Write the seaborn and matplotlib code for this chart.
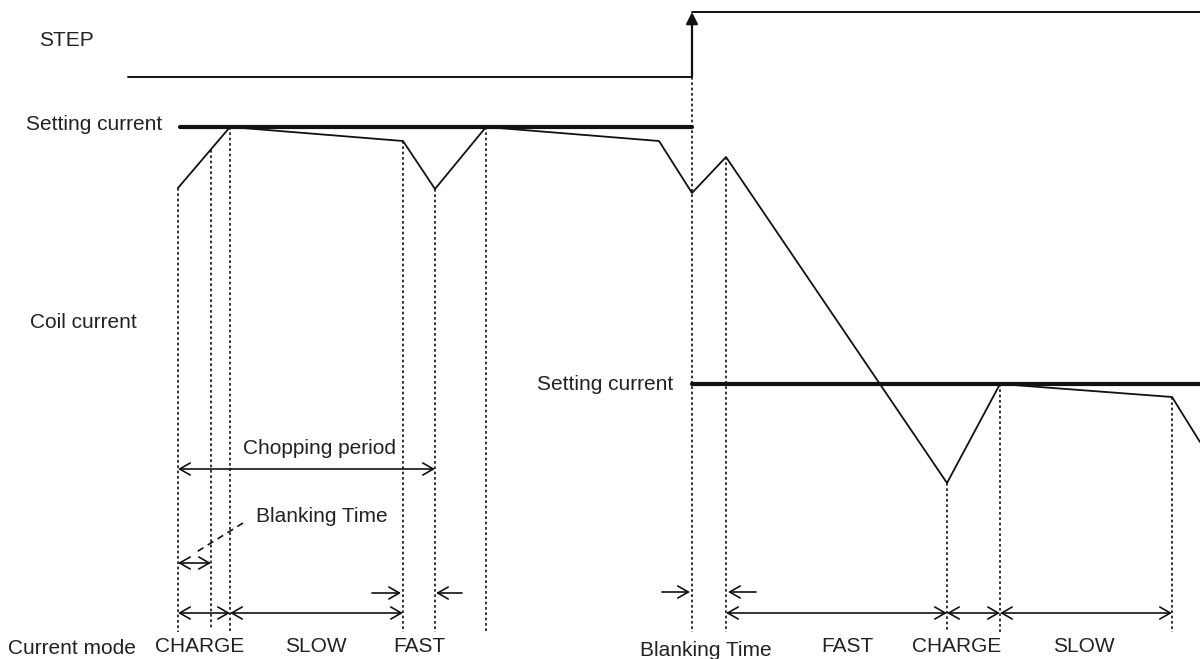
import matplotlib
matplotlib.use("Agg")
import matplotlib.pyplot as plt
import seaborn as sns
import pandas as pd

# ---------------- data (time axis in drawing units, current axis inverted) ----------------
# STEP signal
step_t = [128, 692, 692, 1200]
step_v = [77, 77, 12, 12]

# Coil current waveform
wave_t = [178, 230, 403, 435, 486, 659, 692, 726, 947, 1000, 1172, 1200]
wave_i = [188, 127, 141, 189, 127, 141, 193, 157, 483, 384, 397, 442]

# Setting current levels
set1_t = [180, 692]
set1_i = [127, 127]
set2_t = [692, 1200]
set2_i = [384, 384]

# Dashed time markers
mark_t = [178, 211, 230, 403, 435, 486, 692, 726, 947, 1000, 1172]
mark_top = [188, 150, 127, 141, 189, 127, 77, 157, 483, 384, 397]
mark_bot = [632, 628, 632, 632, 632, 632, 632, 632, 632, 632, 632]

# Double-headed interval arrows: (start, end, level)
span_start = [178, 178, 178, 230, 726, 947, 1000]
span_end = [435, 211, 230, 403, 947, 1000, 1172]
span_level = [469, 563, 613, 613, 613, 613, 613]

# Single pointing arrows (tail -> head)
ptr_tail = [372, 462, 662, 756]
ptr_head = [401, 436, 690, 728]
ptr_level = [593, 593, 592, 592]

# Blanking-time leader line
lead_t = [243, 195]
lead_i = [523, 553]

# Labels
lab_text = ["STEP", "Setting current", "Coil current", "Setting current",
            "Chopping period", "Blanking Time", "Current mode"]
lab_x = [39, 26, 30, 537, 243, 256, 8]
lab_y = [41, 125, 323, 384, 448, 517, 648]

mode_text = ["CHARGE", "SLOW", "FAST", "Blanking Time", "FAST", "CHARGE", "SLOW"]
mode_x = [200, 316, 419, 706, 847, 957, 1084]
mode_y = [647, 647, 647, 650, 647, 647, 647]

# ---------------- drawing ----------------
sns.set_theme(style="white")
plt.rcParams["font.family"] = ["Liberation Sans", "DejaVu Sans"]

fig = plt.figure(figsize=(12, 6.59), dpi=100)
ax = fig.add_axes([0, 0, 1, 1])
ax.set_xlim(0, 1200)
ax.set_ylim(659, 0)
ax.axis("off")

ink = "#111111"

# step low/high levels
sns.lineplot(x=step_t[:2], y=step_v[:2], ax=ax, color=ink, lw=1.4, sort=False)
sns.lineplot(x=step_t[2:], y=step_v[2:], ax=ax, color=ink, lw=1.4, sort=False)
ax.annotate("", xy=(step_t[2], step_v[2]), xytext=(step_t[1], step_v[1]),
            arrowprops=dict(arrowstyle="-|>,head_length=0.5,head_width=0.25",
                            color=ink, lw=1.6, mutation_scale=14,
                            shrinkA=0, shrinkB=0))

# setting current lines
sns.lineplot(x=set1_t, y=set1_i, ax=ax, color=ink, lw=3.0, sort=False)
sns.lineplot(x=set2_t, y=set2_i, ax=ax, color=ink, lw=3.0, sort=False)

# coil current waveform
wave_df = pd.DataFrame({"t": wave_t, "i": wave_i})
sns.lineplot(data=wave_df, x="t", y="i", ax=ax, color=ink, lw=1.3, sort=False)

# dashed vertical markers
for t, a, b in zip(mark_t, mark_top, mark_bot):
    ax.vlines(t, a, b, colors=ink, lw=1.2, linestyles=(0, (1.6, 1.6)))

# leader line for blanking time
ax.plot(lead_t, lead_i, color=ink, lw=1.2, linestyle=(0, (4, 3)))

# interval arrows
astyle = "head_length=0.42,head_width=0.24"
for s, e, lv in zip(span_start, span_end, span_level):
    ax.annotate("", xy=(e, lv), xytext=(s, lv),
                arrowprops=dict(arrowstyle="<->," + astyle,
                                color=ink, lw=1.2, mutation_scale=18,
                                shrinkA=0, shrinkB=0))

for tl, hd, lv in zip(ptr_tail, ptr_head, ptr_level):
    ax.annotate("", xy=(hd, lv), xytext=(tl, lv),
                arrowprops=dict(arrowstyle="->," + astyle,
                                color=ink, lw=1.2, mutation_scale=18,
                                shrinkA=0, shrinkB=0))

# labels
for s, x, y in zip(lab_text, lab_x, lab_y):
    ax.text(x, y, s, fontsize=15, color="#222222", ha="left", va="center")

for s, x, y in zip(mode_text, mode_x, mode_y):
    ax.text(x, y, s, fontsize=15, color="#222222", ha="center", va="center")

fig.savefig("out.png", dpi=100)
